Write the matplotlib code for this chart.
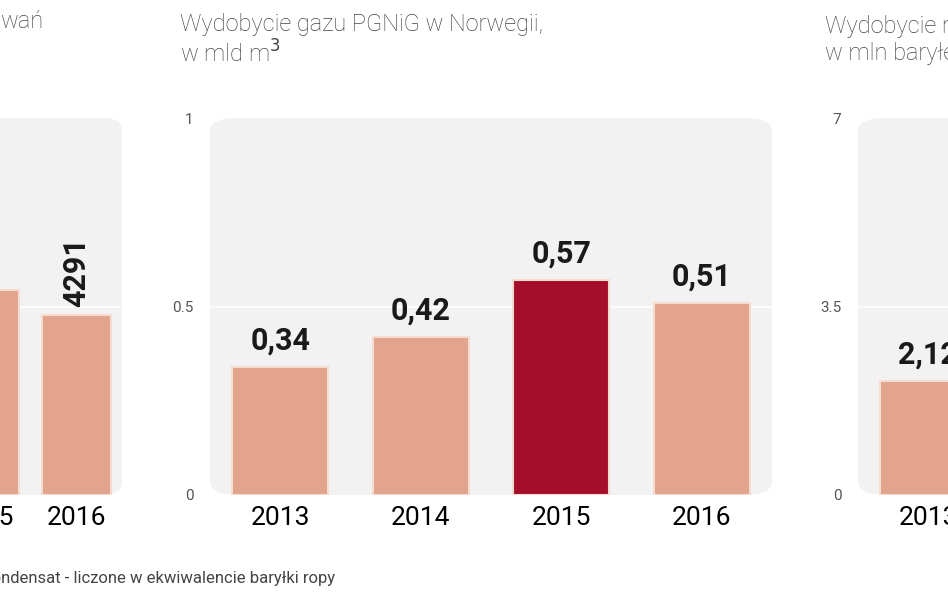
import matplotlib
matplotlib.use("Agg")
import matplotlib.pyplot as plt
from matplotlib.patches import FancyBboxPatch

years_left = ["2015", "2016"]
vals_left = [4900, 4291]
years_mid = ["2013", "2014", "2015", "2016"]
vals_mid = [0.34, 0.42, 0.57, 0.51]
labels_mid = ["0,34", "0,42", "0,57", "0,51"]
years_right = ["2013"]
vals_right = [2.12]
labels_right = ["2,12"]

W, H = 948, 593
fig = plt.figure(figsize=(9.48, 5.93), dpi=100)
fig.patch.set_facecolor("white")
plt.rcParams['font.family'] = ['Roboto', 'DejaVu Sans']

BAR = "#E2A48C"
EDGE = "#F6DCD0"
HI = "#A50E2B"

def add_ax(x0, x1, y_top=118, y_bot=495):
    return fig.add_axes([x0 / W, 1 - y_bot / H, (x1 - x0) / W, (y_bot - y_top) / H])

def style(ax, ymax, ticks, ticklabels, xlim, show_y=True):
    ax.set_xlim(*xlim)
    ax.set_ylim(0, ymax)
    for s in ax.spines.values():
        s.set_visible(False)
    ax.set_facecolor("none")
    bg = FancyBboxPatch((0, 0), 1, 1.0, boxstyle="round,pad=0,rounding_size=0.05",
                        transform=ax.transAxes, facecolor="#F2F2F2", edgecolor="none",
                        zorder=0, clip_on=False, mutation_aspect=0.7)
    ax.add_patch(bg)
    for t in ticks[1:-1]:
        ax.axhline(t, color="white", lw=1.2, zorder=0.5)
    if show_y:
        ax.set_yticks(ticks)
        ax.set_yticklabels(ticklabels, fontsize=11, color="#555555")
        ax.tick_params(axis="y", length=0, pad=12)
    else:
        ax.set_yticks([])
    ax.tick_params(axis="x", length=0, pad=8, labelsize=19)

VF = dict(fontsize=22, fontweight="bold", color="#1a1a1a")

# middle panel
ax = add_ax(210, 772)
style(ax, 1, [0, 0.5, 1], ["0", "0.5", "1"], (-0.5, 3.5))
cols = [BAR, BAR, HI, BAR]
ax.bar(range(4), vals_mid, width=0.68, color=cols, edgecolor=EDGE, linewidth=1.5, zorder=2)
for i, (v, l) in enumerate(zip(vals_mid, labels_mid)):
    ax.text(i, v + 0.03, l, ha="center", va="bottom", **VF)
ax.set_xticks(range(4))
ax.set_xticklabels(years_mid)
fig.text(180 / W, 1 - 40 / H, "Wydobycie gazu PGNiG w Norwegii,\nw mld m$^3$", fontsize=17,
         color="#444444", va="center", ha="left", linespacing=1.2, fontweight="light")

# left panel (cut off)
ax2 = add_ax(-246, 122)
style(ax2, 9000, [0, 4500, 9000], ["", "", ""], (-0.5, 3.5), show_y=False)
ax2.bar([2, 3], vals_left, width=0.75, color=BAR, edgecolor=EDGE, linewidth=1.5, zorder=2)
ax2.text(3, vals_left[1] + 200, "4291", rotation=90, ha="center", va="bottom", **VF)
ax2.set_xticks([2, 3])
ax2.set_xticklabels(years_left)
fig.text(0 / W, 1 - 22 / H, "wań", fontsize=17, color="#444444", va="center", ha="left", fontweight="light")

# right panel (cut off)
ax3 = add_ax(858, 1420)
style(ax3, 7, [0, 3.5, 7], ["0", "3.5", "7"], (-0.5, 3.5))
ax3.bar([0], vals_right, width=0.68, color=BAR, edgecolor=EDGE, linewidth=1.5, zorder=2)
ax3.text(0, vals_right[0] + 0.2, labels_right[0], ha="center", va="bottom", **VF)
ax3.set_xticks([0, 1, 2, 3])
ax3.set_xticklabels(years_right + ["2014", "2015", "2016"])
fig.text(825 / W, 1 - 40 / H, "Wydobycie ropy PGNiG w Norwegii,\nw mln baryłek", fontsize=17,
         color="#444444", va="center", ha="left", linespacing=1.2, fontweight="light")

fig.text(-28 / W, 1 - 578 / H, "* kondensat - liczone w ekwiwalencie baryłki ropy", fontsize=12,
         color="#444444", va="center", ha="left")

fig.savefig("out.png", dpi=100)
